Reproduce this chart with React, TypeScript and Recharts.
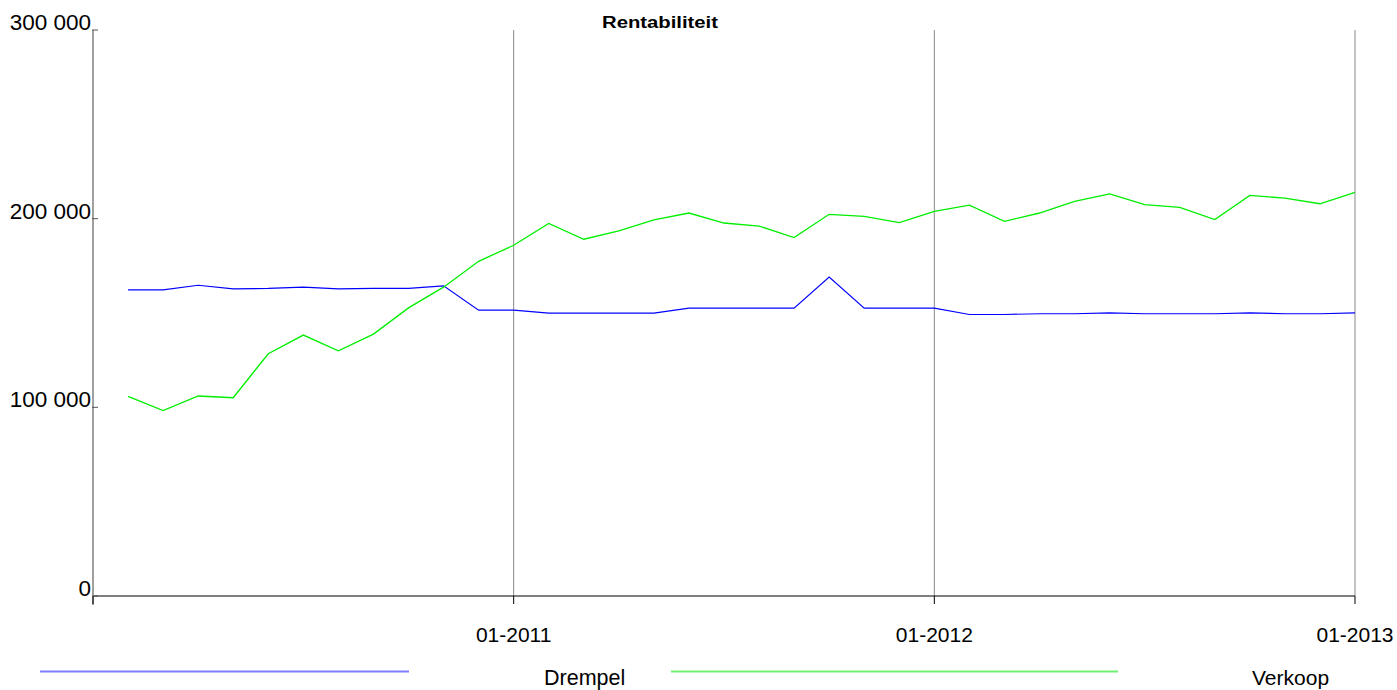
import React from 'react';
import { LineChart, Line, XAxis, YAxis, ReferenceLine } from 'recharts';

const months = [
  '02-2010', '03-2010', '04-2010', '05-2010', '06-2010', '07-2010', '08-2010', '09-2010', '10-2010', '11-2010', '12-2010', '01-2011',
  '02-2011', '03-2011', '04-2011', '05-2011', '06-2011', '07-2011', '08-2011', '09-2011', '10-2011', '11-2011', '12-2011', '01-2012',
  '02-2012', '03-2012', '04-2012', '05-2012', '06-2012', '07-2012', '08-2012', '09-2012', '10-2012', '11-2012', '12-2012', '01-2013',
];

const drempel = [
  162300, 162300, 164700, 162800, 163000, 163700, 162800, 163000, 163000, 164400, 151500, 151500,
  149900, 149900, 149900, 149900, 152600, 152600, 152600, 152600, 169000, 152600, 152600, 152600,
  149200, 149200, 149600, 149600, 150100, 149600, 149600, 149600, 150100, 149600, 149600, 150100,
];

const verkoop = [
  105800, 98300, 106000, 105100, 128400, 138300, 130000, 138800, 152700, 163700, 177400, 185900,
  197500, 189100, 193500, 199300, 203000, 197700, 196100, 190000, 202300, 201200, 197900, 203900,
  207200, 198600, 203000, 209200, 213100, 207400, 206000, 199500, 212300, 210900, 207900, 213900,
];

const xTicks = [0, 12, 24, 36];
const xTickLabels: Record<number, string> = { 0: '', 12: '01-2011', 24: '01-2012', 36: '01-2013' };
const yTicks = [0, 100000, 200000, 300000];

const data = months.map((m, i) => ({ idx: i + 1, month: m, drempel: drempel[i], verkoop: verkoop[i] }));

const FONT = '"Liberation Sans", Arial, sans-serif';

const fmt = (v: number) => String(v).replace(/\B(?=(\d{3})+(?!\d))/g, ' ');

const YTick = (props: any) => {
  const { x, y, payload } = props;
  return (
    <g>
      <line x1={x + 1} x2={x + 7} y1={y} y2={y} stroke="#555" strokeWidth={1} />
      <text x={x} y={y} textAnchor="end" fontFamily={FONT} fontSize={22.5} fill="#000">
        {fmt(payload.value)}
      </text>
    </g>
  );
};

const XTick = (props: any) => {
  const { x, y, payload } = props;
  return (
    <text x={x} y={y + 36} textAnchor="middle" fontFamily={FONT} fontSize={21} fill="#000">
      {xTickLabels[payload.value]}
    </text>
  );
};

export default function App() {
  return (
    <div style={{ position: 'absolute', left: 0, top: 0, width: 1397, height: 690, background: '#fff' }}>
      <LineChart
        width={1397}
        height={690}
        data={data}
        margin={{ top: 30, right: 42, bottom: 34, left: 13 }}
      >
        <XAxis
          dataKey="idx"
          type="number"
          domain={[0, 36]}
          ticks={xTicks}
          interval={0}
          height={60}
          axisLine={{ stroke: '#000', strokeWidth: 1.2 }}
          tickLine={{ stroke: '#000' }}
          tickSize={8}
          tick={<XTick />}
        />
        <YAxis
          type="number"
          domain={[0, 300000]}
          ticks={yTicks}
          interval={0}
          width={80}
          axisLine={{ stroke: '#808080', strokeWidth: 1.5 }}
          tickLine={false}
          tickSize={0}
          tick={<YTick />}
        />
        <ReferenceLine x={12} stroke="#8a8a8a" strokeWidth={1} />
        <ReferenceLine x={24} stroke="#8a8a8a" strokeWidth={1} />
        <ReferenceLine x={36} stroke="#8a8a8a" strokeWidth={1} />
        <Line
          type="linear"
          dataKey="drempel"
          stroke="#0000ff"
          strokeWidth={1.2}
          dot={false}
          isAnimationActive={false}
        />
        <Line
          type="linear"
          dataKey="verkoop"
          stroke="#00ee00"
          strokeWidth={1.3}
          dot={false}
          isAnimationActive={false}
        />
        <text x={602} y={28} fontFamily={FONT} fontSize={16} fontWeight="bold" fill="#000" textLength={116} lengthAdjust="spacingAndGlyphs">
          Rentabiliteit
        </text>
        <line x1={93} x2={93} y1={596} y2={605} stroke="#808080" strokeWidth={1.5} />
        <line x1={40} x2={409} y1={671.5} y2={671.5} stroke="#7f7fff" strokeWidth={2} />
        <text x={544} y={685} fontFamily={FONT} fontSize={21.5} fill="#000">Drempel</text>
        <line x1={671} x2={1118} y1={671.5} y2={671.5} stroke="#70f070" strokeWidth={2} />
        <text x={1252} y={685} fontFamily={FONT} fontSize={21} fill="#000">Verkoop</text>
      </LineChart>
    </div>
  );
}
